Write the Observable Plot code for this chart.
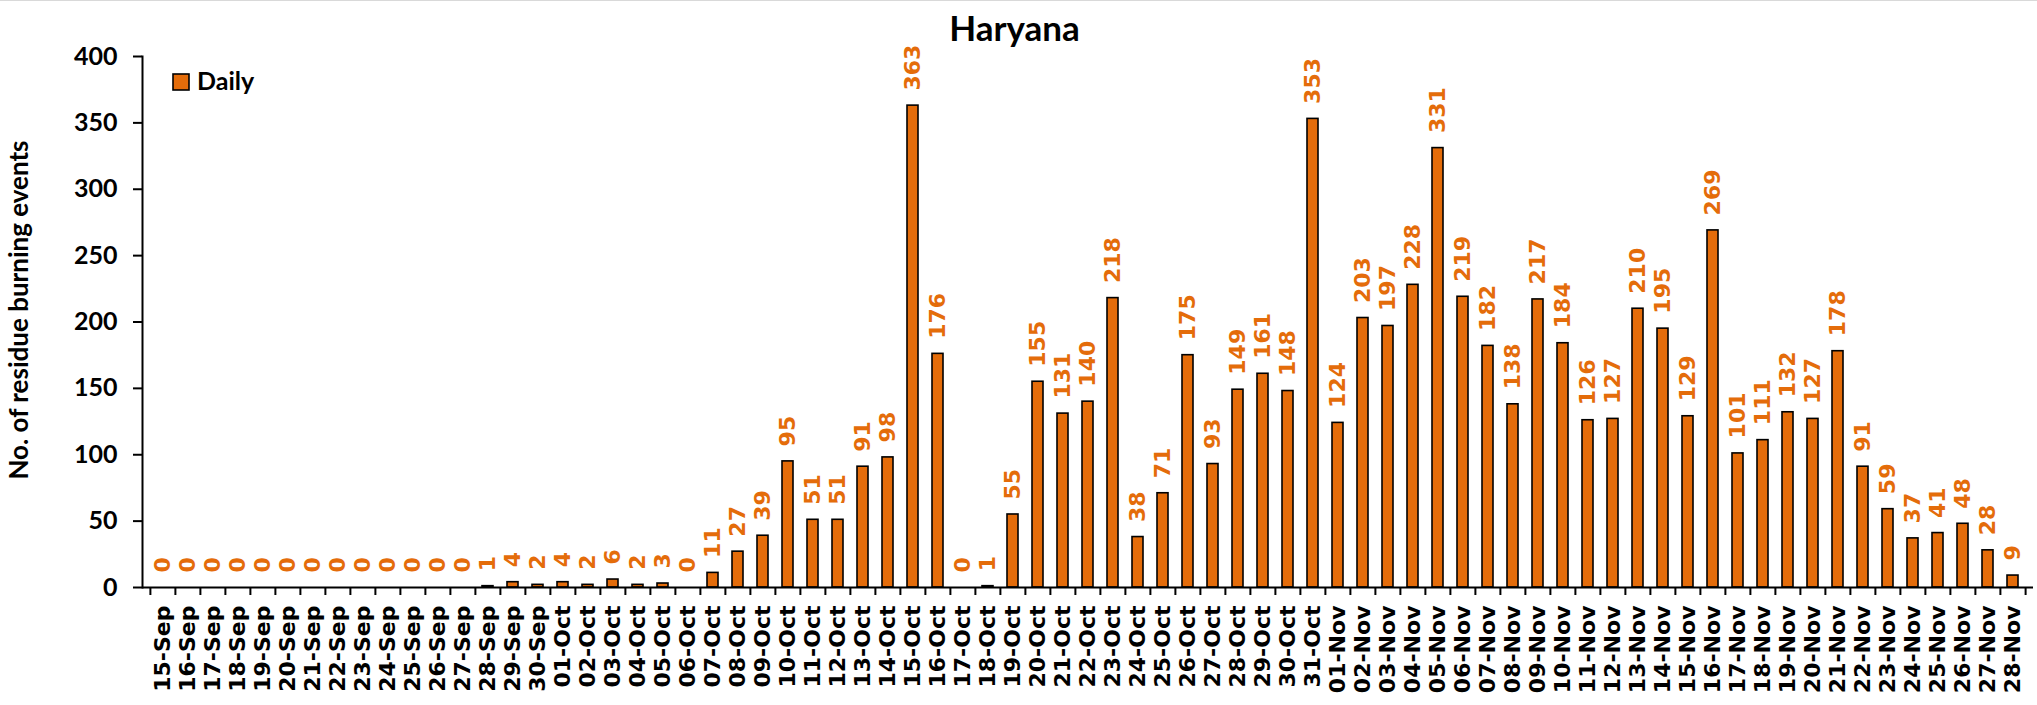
<!DOCTYPE html>
<html>
<head>
<meta charset="utf-8">
<script src="https://cdn.jsdelivr.net/npm/d3@7"></script>
<script src="https://cdn.jsdelivr.net/npm/@observablehq/plot@0.6"></script>
<style>
  body { margin: 0; background: #fff; }
  #wrap { position: relative; width: 2037px; height: 705px; overflow: hidden; border-top: 1px solid #d9d9d9; box-sizing: border-box; }
</style>
</head>
<body>
<div id="wrap"></div>
<script>
const title = "Haryana";
const yLabel = "No. of residue burning events";
const seriesName = "Daily";

const dates = [
  "15-Sep","16-Sep","17-Sep","18-Sep","19-Sep","20-Sep","21-Sep","22-Sep","23-Sep","24-Sep","25-Sep","26-Sep","27-Sep","28-Sep","29-Sep","30-Sep",
  "01-Oct","02-Oct","03-Oct","04-Oct","05-Oct","06-Oct","07-Oct","08-Oct","09-Oct","10-Oct","11-Oct","12-Oct","13-Oct","14-Oct","15-Oct","16-Oct",
  "17-Oct","18-Oct","19-Oct","20-Oct","21-Oct","22-Oct","23-Oct","24-Oct","25-Oct","26-Oct","27-Oct","28-Oct","29-Oct","30-Oct","31-Oct",
  "01-Nov","02-Nov","03-Nov","04-Nov","05-Nov","06-Nov","07-Nov","08-Nov","09-Nov","10-Nov","11-Nov","12-Nov","13-Nov","14-Nov",
  "15-Nov","16-Nov","17-Nov","18-Nov","19-Nov","20-Nov","21-Nov","22-Nov","23-Nov","24-Nov","25-Nov","26-Nov","27-Nov","28-Nov"
];

const daily = [
  0,0,0,0,0,0,0,0,0,0,0,0,0,1,4,2,
  4,2,6,2,3,0,11,27,39,95,51,51,91,98,363,176,
  0,1,55,155,131,140,218,38,71,175,93,149,161,148,353,
  124,203,197,228,331,219,182,138,217,184,126,127,210,195,
  129,269,101,111,132,127,178,91,59,37,41,48,28,9
];

const yTicks = [0, 50, 100, 150, 200, 250, 300, 350, 400];

const data = dates.map((d, i) => ({date: d, value: daily[i]}));

const W = 2037, H = 705;
const mL = 142, mR = 4, mT = 55, mB = 119;
const orange = "#E46C0A";
const halfStep = (W - mL - mR) / dates.length / 2;
const calibriLike = "Lato, 'Open Sans', sans-serif";
const verdanaLike = "'DejaVu Sans', Verdana, sans-serif";

const plot = Plot.plot({
  width: W,
  height: H,
  marginLeft: mL,
  marginRight: mR,
  marginTop: mT,
  marginBottom: mB,
  style: {background: "transparent", color: "#000", overflow: "visible"},
  x: {domain: dates, padding: 0, label: null},
  y: {domain: [0, 400], label: null},
  marks: [
    Plot.barY(data, {
      x: "date", y: "value",
      fill: orange, stroke: "#000", strokeWidth: 1.6,
      insetLeft: 7, insetRight: 7
    }),
    Plot.text(data, {
      x: "date", y: "value",
      text: d => String(d.value),
      rotate: -90, textAnchor: "start", lineAnchor: "middle",
      dy: -15,
      fill: orange, fontSize: 22, fontWeight: "bold", fontFamily: verdanaLike
    }),
    Plot.ruleY([0], {stroke: "#000", strokeWidth: 2}),
    Plot.frame({anchor: "left", stroke: "#000", strokeWidth: 2}),
    Plot.axisY({
      ticks: yTicks, tickSize: 9, tickPadding: 16,
      fontSize: 25, fontWeight: "bold", fontFamily: calibriLike,
      label: null, strokeWidth: 2
    }),
    Plot.axisX({tickSize: 8, text: null, dx: -halfStep, label: null, strokeWidth: 2}),
    Plot.axisX({ticks: [dates[dates.length - 1]], tickSize: 8, text: null, dx: halfStep, label: null, strokeWidth: 2}),
    Plot.axisX({
      tickSize: 0, tickPadding: 18, tickRotate: -90,
      fontSize: 22, fontWeight: "bold", fontFamily: verdanaLike,
      label: null
    }),
    Plot.text([yLabel], {
      frameAnchor: "left", rotate: -90, lineAnchor: "middle", textAnchor: "middle",
      dx: -123, dy: -12,
      fontSize: 26, fontWeight: "bold", fontFamily: calibriLike, fill: "#000"
    })
  ]
});

const svg = d3.select(plot);
svg.append("text")
  .attr("x", W / 2 - 4).attr("y", 40)
  .attr("text-anchor", "middle")
  .attr("font-family", calibriLike).attr("font-weight", "bold").attr("font-size", 35)
  .attr("fill", "#000")
  .text(title);

const lg = svg.append("g");
lg.append("rect")
  .attr("x", 173).attr("y", 73).attr("width", 16).attr("height", 16)
  .attr("fill", orange).attr("stroke", "#000").attr("stroke-width", 1.6);
lg.append("text")
  .attr("x", 197).attr("y", 89)
  .attr("text-anchor", "start")
  .attr("font-family", calibriLike).attr("font-weight", "bold").attr("font-size", 25)
  .attr("fill", "#000")
  .text(seriesName);

document.getElementById("wrap").appendChild(plot);
</script>
</body>
</html>
